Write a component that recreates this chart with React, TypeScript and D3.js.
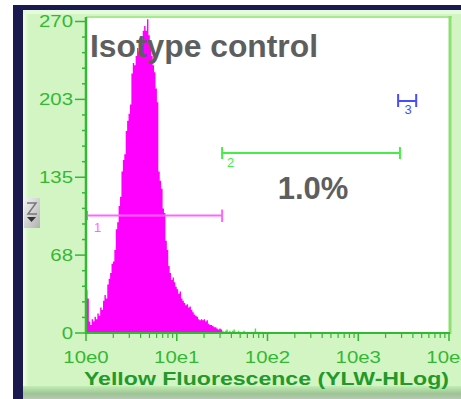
import * as d3 from 'd3';

// histogram counts, 64 channels per decade starting at 10^0
const magentaCounts = [
  37, 30, 10, 7, 12, 10, 14, 12, 17, 15, 22, 20, 28, 33, 30, 42, 47, 52, 60, 62,
  72, 90, 96, 110, 118, 140, 150, 155, 175, 184, 190, 198, 225, 234, 232, 240, 247, 244, 255, 250,
  262, 266, 262, 272, 258, 250, 240, 232, 226, 212, 200, 140, 132, 125, 108, 104, 80, 72, 58, 52,
  46, 48, 44, 40, 38, 34, 36, 30, 28, 26, 24, 25, 22, 23, 20, 18, 16, 15, 14, 12,
  11, 12, 11, 12, 10, 11, 8, 7, 7, 6, 5, 5, 4, 3, 4, 3,
];
const greenCounts = [
  2, 1, 2, 3, 1, 2, 0, 2, 3, 1, 0, 2, 1, 0, 1, 2, 0, 1, 0, 0,
  1, 0, 1, 4, 1, 0, 1, 0, 1,
];
const channelsPerDecade = 64;

const yTicks = [0, 67.5, 135, 202.5, 270];
const yTickLabels = ['0', '68', '135', '203', '270'];
const xTicks = [1, 10, 100, 1000, 10000];
const xTickLabels = ['10e0', '10e1', '10e2', '10e3', '10e4'];

// markers: [start, end] in fluorescence units
const marker1 = [1, 31.6];
const marker2 = [31.6, 2880];
const marker3 = [2750, 4350];

const title = 'Isotype control';
const percent = '1.0%';
const axisTitle = 'Yellow Fluorescence (YLW-HLog)';

const font = '"Liberation Sans", Arial, sans-serif';

export default function App() {
  const x = d3.scaleLog().domain([1, 10000]).range([86, 449]);
  const y = d3.scaleLinear().domain([0, 270]).range([333, 21.5]);

  const edge = (i: number) => x(Math.pow(10, i / channelsPerDecade));

  // step area through channel edges
  const stepArea = (counts: number[], offset: number) => {
    const pts = counts.map((c, i) => ({ i: i + offset, c }));
    pts.push({ i: offset + counts.length, c: counts[counts.length - 1] });
    return d3
      .area<{ i: number; c: number }>()
      .x((d) => edge(d.i))
      .y0(y(0))
      .y1((d) => y(d.c))
      .curve(d3.curveStepAfter)(pts) as string;
  };

  const yMinor = d3.range(0, 270.01, 13.5).filter((v) => !yTicks.includes(v));
  const xMinor: number[] = [];
  for (let d = 1; d < 10000; d *= 10) for (let k = 2; k <= 9; k++) xMinor.push(d * k);

  const green = '#33b833';

  return (
    <svg width={461} height={399} style={{ position: 'absolute', left: 0, top: 0 }}>
      <defs>
        <linearGradient id="bottomBevel" x1="0" y1="0" x2="0" y2="1">
          <stop offset="0%" stopColor="#c4ecb4" />
          <stop offset="60%" stopColor="#9cc494" />
          <stop offset="100%" stopColor="#b8c8b4" />
        </linearGradient>
        <linearGradient id="leftBevel" x1="0" y1="0" x2="1" y2="0">
          <stop offset="0%" stopColor="#f0ffe8" />
          <stop offset="100%" stopColor="#d3f5c3" />
        </linearGradient>
        <linearGradient id="widget" x1="0" y1="0" x2="1" y2="1">
          <stop offset="0%" stopColor="#f4f4f4" />
          <stop offset="100%" stopColor="#b0b0b0" />
        </linearGradient>
      </defs>
      <rect x={0} y={0} width={461} height={399} fill="#ffffff" />
      {/* frame */}
      <rect x={13} y={5} width={448} height={394} fill="#1b1a4e" />
      <rect x={23} y={10} width={438} height={389} fill="#d3f5c3" />
      <rect x={23} y={10} width={6} height={378} fill="url(#leftBevel)" />
      <rect x={23} y={10} width={438} height={4} fill="#e6fbdc" />
      <rect x={23} y={386} width={438} height={13} fill="url(#bottomBevel)" />
      {/* widget */}
      <rect x={24} y={198} width={16} height={30} fill="url(#widget)" />
      <path d="M27,203 L36,203 L28,214 L37,214" fill="none" stroke="#777" strokeWidth={1.5} />
      <path d="M27,217 L36,217 L31.5,222 Z" fill="#333" />

      {/* plot area */}
      <rect x={86} y={17} width={363} height={316} fill="#ffffff" />
      <line x1={86} x2={452} y1={17} y2={17} stroke="#a6eb8e" strokeWidth={2} />
      <line x1={450} x2={450} y1={16} y2={334} stroke="#8ddf72" strokeWidth={3} />

      <path d={stepArea(magentaCounts, 0)} fill="#ff00ff" />
      <path d={stepArea(greenCounts, magentaCounts.length)} fill="#33ee33" />

      {/* markers */}
      <g stroke="#ff66ff" strokeWidth={2}>
        <line x1={x(marker1[0])} x2={x(marker1[1])} y1={215.5} y2={215.5} />
        <line x1={x(marker1[1])} x2={x(marker1[1])} y1={209.5} y2={222} />
        <line x1={x(marker1[0]) + 1} x2={x(marker1[0]) + 1} y1={211} y2={220} />
      </g>
      <text x={94} y={232} fill="#ff66ff" fontFamily={font} fontSize={13}>1</text>
      <g stroke="#44ee44" strokeWidth={2}>
        <line x1={x(marker2[0])} x2={x(marker2[1])} y1={153} y2={153} />
        <line x1={x(marker2[0])} x2={x(marker2[0])} y1={147} y2={159} />
        <line x1={x(marker2[1])} x2={x(marker2[1])} y1={147} y2={159} />
      </g>
      <text x={227} y={167} fill="#44ee44" fontFamily={font} fontSize={13}>2</text>
      <g stroke="#4a4aff" strokeWidth={2}>
        <line x1={x(marker3[0])} x2={x(marker3[1])} y1={101} y2={101} />
        <line x1={x(marker3[0])} x2={x(marker3[0])} y1={94} y2={107} />
        <line x1={x(marker3[1])} x2={x(marker3[1])} y1={94} y2={107} />
      </g>
      <text x={408} y={114} fill="#4a4aff" fontFamily={font} fontSize={13} textAnchor="middle">3</text>

      {/* axes */}
      <line x1={86} x2={86} y1={17} y2={334} stroke={green} strokeWidth={2.5} />
      <line x1={85} x2={450} y1={333} y2={333} stroke={green} strokeWidth={2} />
      {yTicks.map((t) => (
        <line key={t} x1={75} x2={86} y1={y(t)} y2={y(t)} stroke={green} strokeWidth={1.5} />
      ))}
      {yMinor.map((t) => (
        <line key={t} x1={82} x2={86} y1={y(t)} y2={y(t)} stroke={green} strokeWidth={1.5} />
      ))}
      {xTicks.map((t) => (
        <line key={t} x1={x(t)} x2={x(t)} y1={333} y2={341} stroke={green} strokeWidth={1.5} />
      ))}
      {xMinor.map((t) => (
        <line key={t} x1={x(t)} x2={x(t)} y1={333} y2={338} stroke={green} strokeWidth={1.2} />
      ))}
      {yTicks.map((t, i) => (
        <g key={t} transform={`translate(73,${y(t)}) scale(1.2,1)`}>
          <text fill={green} fontFamily={font} fontSize={17} textAnchor="end" dominantBaseline="central">
            {yTickLabels[i]}
          </text>
        </g>
      ))}
      {xTicks.map((t, i) => (
        <g key={t} transform={`translate(${x(t)},363) scale(1.2,1)`}>
          <text fill={green} fontFamily={font} fontSize={17} textAnchor="middle">
            {xTickLabels[i]}
          </text>
        </g>
      ))}
      <text
        x={84}
        y={385}
        fill="#22992a"
        fontFamily={font}
        fontSize={19}
        fontWeight="bold"
        textLength={365}
        lengthAdjust="spacingAndGlyphs"
      >
        {axisTitle}
      </text>

      {/* annotations */}
      <text x={90} y={57} fill="#5e5e5e" fontFamily={font} fontSize={31} fontWeight="bold" textLength={228} lengthAdjust="spacingAndGlyphs">
        {title}
      </text>
      <text x={313} y={199} fill="#5e5e5e" fontFamily={font} fontSize={31} fontWeight="bold" textAnchor="middle">
        {percent}
      </text>
    </svg>
  );
}
